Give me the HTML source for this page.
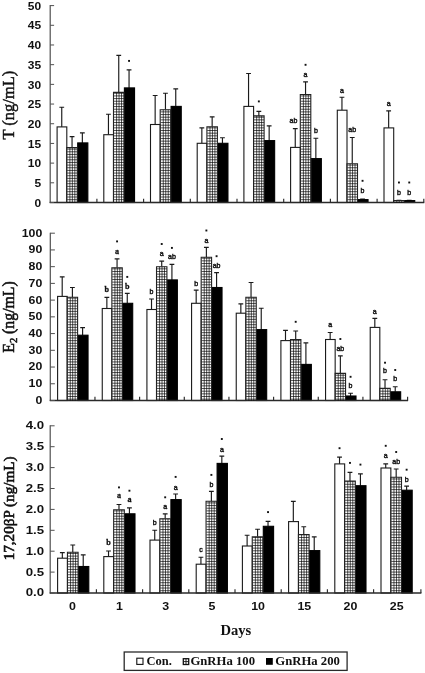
<!DOCTYPE html>
<html><head><meta charset="utf-8"><title>Figure</title>
<style>
html,body{margin:0;padding:0;background:#fff;}
body{width:425px;height:673px;overflow:hidden;}
svg{display:block;filter:blur(0.3px);}
text{font-family:"Liberation Sans",sans-serif;fill:#111;}
.yl{font-weight:bold;text-anchor:end;}
.xl{font-weight:bold;font-size:11.5px;text-anchor:middle;}
.ti{font-family:"Liberation Serif",serif;font-weight:bold;text-anchor:middle;}
.tr{font-family:"Liberation Serif",serif;text-anchor:middle;stroke:#111;stroke-width:0.35px;}
.as{font-size:7.5px;text-anchor:middle;stroke:#111;stroke-width:0.45px;}
.at{font-family:"Liberation Serif",serif;font-weight:bold;font-size:9px;text-anchor:middle;stroke:#111;stroke-width:0.3px;}
.lg{font-family:"Liberation Serif",serif;font-weight:bold;font-size:12px;}
</style></head><body>
<svg width="425" height="673" viewBox="0 0 425 673">
<rect width="425" height="673" fill="#fff"/>
<path d="M61.75 126.9V107.2M59.35 107.2H64.15" stroke="#1a1a1a" stroke-width="1.15" fill="none"/>
<rect x="57.1" y="126.9" width="9.7" height="75.6" fill="#fff" stroke="#1a1a1a" stroke-width="1.1"/>
<path d="M72.05 147.6V136.6M69.65 136.6H74.45" stroke="#1a1a1a" stroke-width="1.15" fill="none"/>
<rect x="67.4" y="147.6" width="9.7" height="54.9" fill="#fff" stroke="none" stroke-width="1.1"/>
<path d="M82.35 142.9V132.8M79.95 132.8H84.75" stroke="#1a1a1a" stroke-width="1.15" fill="none"/>
<rect x="77.7" y="142.9" width="10.15" height="59.6" fill="#000" stroke="#000" stroke-width="1.1"/>
<path d="M108.45 134.7V114.2M106.05 114.2H110.85" stroke="#1a1a1a" stroke-width="1.15" fill="none"/>
<rect x="103.8" y="134.7" width="9.7" height="67.8" fill="#fff" stroke="#1a1a1a" stroke-width="1.1"/>
<path d="M118.75 92.4V55.3M116.35 55.3H121.15" stroke="#1a1a1a" stroke-width="1.15" fill="none"/>
<rect x="114.1" y="92.4" width="9.7" height="110.1" fill="#fff" stroke="none" stroke-width="1.1"/>
<path d="M129.05 87.9V69.8M126.65 69.8H131.45" stroke="#1a1a1a" stroke-width="1.15" fill="none"/>
<rect x="124.4" y="87.9" width="10.15" height="114.6" fill="#000" stroke="#000" stroke-width="1.1"/>
<path d="M155.15 124.5V95.5M152.75 95.5H157.55" stroke="#1a1a1a" stroke-width="1.15" fill="none"/>
<rect x="150.5" y="124.5" width="9.7" height="78" fill="#fff" stroke="#1a1a1a" stroke-width="1.1"/>
<path d="M165.45 109.7V93.2M163.05 93.2H167.85" stroke="#1a1a1a" stroke-width="1.15" fill="none"/>
<rect x="160.8" y="109.7" width="9.7" height="92.8" fill="#fff" stroke="none" stroke-width="1.1"/>
<path d="M175.75 106.4V88.9M173.35 88.9H178.15" stroke="#1a1a1a" stroke-width="1.15" fill="none"/>
<rect x="171.1" y="106.4" width="10.15" height="96.1" fill="#000" stroke="#000" stroke-width="1.1"/>
<path d="M201.85 143.3V127.8M199.45 127.8H204.25" stroke="#1a1a1a" stroke-width="1.15" fill="none"/>
<rect x="197.2" y="143.3" width="9.7" height="59.2" fill="#fff" stroke="#1a1a1a" stroke-width="1.1"/>
<path d="M212.15 126.8V116.9M209.75 116.9H214.55" stroke="#1a1a1a" stroke-width="1.15" fill="none"/>
<rect x="207.5" y="126.8" width="9.7" height="75.7" fill="#fff" stroke="none" stroke-width="1.1"/>
<path d="M222.45 143.3V137.7M220.05 137.7H224.85" stroke="#1a1a1a" stroke-width="1.15" fill="none"/>
<rect x="217.8" y="143.3" width="10.15" height="59.2" fill="#000" stroke="#000" stroke-width="1.1"/>
<path d="M248.55 106.4V73.5M246.15 73.5H250.95" stroke="#1a1a1a" stroke-width="1.15" fill="none"/>
<rect x="243.9" y="106.4" width="9.7" height="96.1" fill="#fff" stroke="#1a1a1a" stroke-width="1.1"/>
<path d="M258.85 115.9V111.3M256.45 111.3H261.25" stroke="#1a1a1a" stroke-width="1.15" fill="none"/>
<rect x="254.2" y="115.9" width="9.7" height="86.6" fill="#fff" stroke="none" stroke-width="1.1"/>
<path d="M269.15 140.6V125.8M266.75 125.8H271.55" stroke="#1a1a1a" stroke-width="1.15" fill="none"/>
<rect x="264.5" y="140.6" width="10.15" height="61.9" fill="#000" stroke="#000" stroke-width="1.1"/>
<path d="M295.25 147.4V128.6M292.85 128.6H297.65" stroke="#1a1a1a" stroke-width="1.15" fill="none"/>
<rect x="290.6" y="147.4" width="9.7" height="55.1" fill="#fff" stroke="#1a1a1a" stroke-width="1.1"/>
<path d="M305.55 94.5V81.9M303.15 81.9H307.95" stroke="#1a1a1a" stroke-width="1.15" fill="none"/>
<rect x="300.9" y="94.5" width="9.7" height="108" fill="#fff" stroke="none" stroke-width="1.1"/>
<path d="M315.85 158.6V138.2M313.45 138.2H318.25" stroke="#1a1a1a" stroke-width="1.15" fill="none"/>
<rect x="311.2" y="158.6" width="10.15" height="43.9" fill="#000" stroke="#000" stroke-width="1.1"/>
<path d="M341.95 110.2V97.2M339.55 97.2H344.35" stroke="#1a1a1a" stroke-width="1.15" fill="none"/>
<rect x="337.3" y="110.2" width="9.7" height="92.3" fill="#fff" stroke="#1a1a1a" stroke-width="1.1"/>
<path d="M352.25 163.8V137.5M349.85 137.5H354.65" stroke="#1a1a1a" stroke-width="1.15" fill="none"/>
<rect x="347.6" y="163.8" width="9.7" height="38.7" fill="#fff" stroke="none" stroke-width="1.1"/>
<path d="M362.55 199.6V199M360.15 199H364.95" stroke="#1a1a1a" stroke-width="1.15" fill="none"/>
<rect x="357.9" y="199.6" width="10.15" height="2.9" fill="#000" stroke="#000" stroke-width="1.1"/>
<path d="M388.65 127.9V110.9M386.25 110.9H391.05" stroke="#1a1a1a" stroke-width="1.15" fill="none"/>
<rect x="384" y="127.9" width="9.7" height="74.6" fill="#fff" stroke="#1a1a1a" stroke-width="1.1"/>
<path d="M398.95 200.6V200.2M396.55 200.2H401.35" stroke="#1a1a1a" stroke-width="1.15" fill="none"/>
<rect x="394.3" y="200.6" width="9.7" height="1.9" fill="#fff" stroke="none" stroke-width="1.1"/>
<path d="M409.25 200.6V200.2M406.85 200.2H411.65" stroke="#1a1a1a" stroke-width="1.15" fill="none"/>
<rect x="404.6" y="200.6" width="10.15" height="1.9" fill="#000" stroke="#000" stroke-width="1.1"/>
<path d="M50.2 5.1V203" stroke="#505050" stroke-width="1.2" fill="none"/>
<path d="M49.7 202.5H424.3" stroke="#2a2a2a" stroke-width="1.35" fill="none"/>
<text class="yl" font-size="11.5" transform="translate(41.1 206.64) scale(1.04 1)">0</text>
<text class="yl" font-size="11.5" transform="translate(41.1 186.95) scale(1.04 1)">5</text>
<text class="yl" font-size="11.5" transform="translate(41.1 167.26) scale(1.04 1)">10</text>
<text class="yl" font-size="11.5" transform="translate(41.1 147.57) scale(1.04 1)">15</text>
<text class="yl" font-size="11.5" transform="translate(41.1 127.88) scale(1.04 1)">20</text>
<text class="yl" font-size="11.5" transform="translate(41.1 108.19) scale(1.04 1)">25</text>
<text class="yl" font-size="11.5" transform="translate(41.1 88.5) scale(1.04 1)">30</text>
<text class="yl" font-size="11.5" transform="translate(41.1 68.81) scale(1.04 1)">35</text>
<text class="yl" font-size="11.5" transform="translate(41.1 49.12) scale(1.04 1)">40</text>
<text class="yl" font-size="11.5" transform="translate(41.1 29.43) scale(1.04 1)">45</text>
<text class="yl" font-size="11.5" transform="translate(41.1 9.74) scale(1.04 1)">50</text>
<path d="M50.2 202.5H54.1M50.2 182.81H54.1M50.2 163.12H54.1M50.2 143.43H54.1M50.2 123.74H54.1M50.2 104.05H54.1M50.2 84.36H54.1M50.2 64.67H54.1M50.2 44.98H54.1M50.2 25.29H54.1M50.2 5.6H54.1" stroke="#505050" stroke-width="1" fill="none"/>
<path d="M96.9 202.5V198.7M143.6 202.5V198.7M190.3 202.5V198.7M237 202.5V198.7M283.7 202.5V198.7M330.4 202.5V198.7M377.1 202.5V198.7M423.8 202.5V198.7" stroke="#2a2a2a" stroke-width="1.15" fill="none"/>
<rect x="128.1" y="59.95" width="1.9" height="1.9" fill="#111"/>
<rect x="257.9" y="100.45" width="1.9" height="1.9" fill="#111"/>
<text class="as" transform="translate(293.45 123.2) scale(0.94 1)">ab</text>
<text class="as" transform="translate(305.55 77.2) scale(0.94 1)">a</text>
<rect x="304.6" y="63.85" width="1.9" height="1.9" fill="#111"/>
<text class="as" transform="translate(315.85 132.5) scale(0.94 1)">b</text>
<text class="as" transform="translate(341.95 92.6) scale(0.94 1)">a</text>
<text class="as" transform="translate(352.25 131.8) scale(0.94 1)">ab</text>
<text class="as" transform="translate(362.55 193.2) scale(0.94 1)">b</text>
<rect x="361.6" y="179.85" width="1.9" height="1.9" fill="#111"/>
<text class="as" transform="translate(388.65 106.2) scale(0.94 1)">a</text>
<text class="as" transform="translate(398.95 195) scale(0.94 1)">b</text>
<rect x="398" y="181.55" width="1.9" height="1.9" fill="#111"/>
<text class="as" transform="translate(409.25 195) scale(0.94 1)">b</text>
<rect x="408.3" y="181.55" width="1.9" height="1.9" fill="#111"/>
<path d="M62.2 296.4V276.9M59.8 276.9H64.6" stroke="#1a1a1a" stroke-width="1.15" fill="none"/>
<rect x="57.6" y="296.4" width="9.6" height="104.1" fill="#fff" stroke="#1a1a1a" stroke-width="1.1"/>
<path d="M72.4 297.3V287.5M70 287.5H74.8" stroke="#1a1a1a" stroke-width="1.15" fill="none"/>
<rect x="67.8" y="297.3" width="9.6" height="103.2" fill="#fff" stroke="none" stroke-width="1.1"/>
<path d="M82.6 335.2V327.6M80.2 327.6H85" stroke="#1a1a1a" stroke-width="1.15" fill="none"/>
<rect x="78" y="335.2" width="10.05" height="65.3" fill="#000" stroke="#000" stroke-width="1.1"/>
<path d="M106.86 308.5V297.3M104.46 297.3H109.26" stroke="#1a1a1a" stroke-width="1.15" fill="none"/>
<rect x="102.26" y="308.5" width="9.6" height="92" fill="#fff" stroke="#1a1a1a" stroke-width="1.1"/>
<path d="M117.06 267.7V258.8M114.66 258.8H119.46" stroke="#1a1a1a" stroke-width="1.15" fill="none"/>
<rect x="112.46" y="267.7" width="9.6" height="132.8" fill="#fff" stroke="none" stroke-width="1.1"/>
<path d="M127.26 303.3V293.4M124.86 293.4H129.66" stroke="#1a1a1a" stroke-width="1.15" fill="none"/>
<rect x="122.66" y="303.3" width="10.05" height="97.2" fill="#000" stroke="#000" stroke-width="1.1"/>
<path d="M151.52 309.5V299M149.12 299H153.92" stroke="#1a1a1a" stroke-width="1.15" fill="none"/>
<rect x="146.92" y="309.5" width="9.6" height="91" fill="#fff" stroke="#1a1a1a" stroke-width="1.1"/>
<path d="M161.72 266.7V261.1M159.32 261.1H164.12" stroke="#1a1a1a" stroke-width="1.15" fill="none"/>
<rect x="157.12" y="266.7" width="9.6" height="133.8" fill="#fff" stroke="none" stroke-width="1.1"/>
<path d="M171.92 279.9V264.4M169.52 264.4H174.32" stroke="#1a1a1a" stroke-width="1.15" fill="none"/>
<rect x="167.32" y="279.9" width="10.05" height="120.6" fill="#000" stroke="#000" stroke-width="1.1"/>
<path d="M196.18 303.3V290.1M193.78 290.1H198.58" stroke="#1a1a1a" stroke-width="1.15" fill="none"/>
<rect x="191.58" y="303.3" width="9.6" height="97.2" fill="#fff" stroke="#1a1a1a" stroke-width="1.1"/>
<path d="M206.38 257.2V247.3M203.98 247.3H208.78" stroke="#1a1a1a" stroke-width="1.15" fill="none"/>
<rect x="201.78" y="257.2" width="9.6" height="143.3" fill="#fff" stroke="none" stroke-width="1.1"/>
<path d="M216.58 287.5V272.6M214.18 272.6H218.98" stroke="#1a1a1a" stroke-width="1.15" fill="none"/>
<rect x="211.98" y="287.5" width="10.05" height="113" fill="#000" stroke="#000" stroke-width="1.1"/>
<path d="M240.84 313.2V303.9M238.44 303.9H243.24" stroke="#1a1a1a" stroke-width="1.15" fill="none"/>
<rect x="236.24" y="313.2" width="9.6" height="87.3" fill="#fff" stroke="#1a1a1a" stroke-width="1.1"/>
<path d="M251.04 297.3V282.5M248.64 282.5H253.44" stroke="#1a1a1a" stroke-width="1.15" fill="none"/>
<rect x="246.44" y="297.3" width="9.6" height="103.2" fill="#fff" stroke="none" stroke-width="1.1"/>
<path d="M261.24 329.6V308.2M258.84 308.2H263.64" stroke="#1a1a1a" stroke-width="1.15" fill="none"/>
<rect x="256.64" y="329.6" width="10.05" height="70.9" fill="#000" stroke="#000" stroke-width="1.1"/>
<path d="M285.5 340.6V330.3M283.1 330.3H287.9" stroke="#1a1a1a" stroke-width="1.15" fill="none"/>
<rect x="280.9" y="340.6" width="9.6" height="59.9" fill="#fff" stroke="#1a1a1a" stroke-width="1.1"/>
<path d="M295.7 339.5V331M293.3 331H298.1" stroke="#1a1a1a" stroke-width="1.15" fill="none"/>
<rect x="291.1" y="339.5" width="9.6" height="61" fill="#fff" stroke="none" stroke-width="1.1"/>
<path d="M305.9 364.4V342.9M303.5 342.9H308.3" stroke="#1a1a1a" stroke-width="1.15" fill="none"/>
<rect x="301.3" y="364.4" width="10.05" height="36.1" fill="#000" stroke="#000" stroke-width="1.1"/>
<path d="M330.16 339.5V332.5M327.76 332.5H332.56" stroke="#1a1a1a" stroke-width="1.15" fill="none"/>
<rect x="325.56" y="339.5" width="9.6" height="61" fill="#fff" stroke="#1a1a1a" stroke-width="1.1"/>
<path d="M340.36 373.4V355.9M337.96 355.9H342.76" stroke="#1a1a1a" stroke-width="1.15" fill="none"/>
<rect x="335.76" y="373.4" width="9.6" height="27.1" fill="#fff" stroke="none" stroke-width="1.1"/>
<path d="M350.56 396V393.2M348.16 393.2H352.96" stroke="#1a1a1a" stroke-width="1.15" fill="none"/>
<rect x="345.96" y="396" width="10.05" height="4.5" fill="#000" stroke="#000" stroke-width="1.1"/>
<path d="M374.82 327.4V318.4M372.42 318.4H377.22" stroke="#1a1a1a" stroke-width="1.15" fill="none"/>
<rect x="370.22" y="327.4" width="9.6" height="73.1" fill="#fff" stroke="#1a1a1a" stroke-width="1.1"/>
<path d="M385.02 388.4V379.7M382.62 379.7H387.42" stroke="#1a1a1a" stroke-width="1.15" fill="none"/>
<rect x="380.42" y="388.4" width="9.6" height="12.1" fill="#fff" stroke="none" stroke-width="1.1"/>
<path d="M395.22 391.8V386.7M392.82 386.7H397.62" stroke="#1a1a1a" stroke-width="1.15" fill="none"/>
<rect x="390.62" y="391.8" width="10.05" height="8.7" fill="#000" stroke="#000" stroke-width="1.1"/>
<path d="M50.3 232.7V401" stroke="#505050" stroke-width="1.2" fill="none"/>
<path d="M49.8 400.5H408.1" stroke="#2a2a2a" stroke-width="1.35" fill="none"/>
<text class="yl" font-size="11.4" transform="translate(42.3 403.9) scale(1.08 1)">0</text>
<text class="yl" font-size="11.4" transform="translate(42.3 387.17) scale(1.08 1)">10</text>
<text class="yl" font-size="11.4" transform="translate(42.3 370.44) scale(1.08 1)">20</text>
<text class="yl" font-size="11.4" transform="translate(42.3 353.71) scale(1.08 1)">30</text>
<text class="yl" font-size="11.4" transform="translate(42.3 336.98) scale(1.08 1)">40</text>
<text class="yl" font-size="11.4" transform="translate(42.3 320.25) scale(1.08 1)">50</text>
<text class="yl" font-size="11.4" transform="translate(42.3 303.52) scale(1.08 1)">60</text>
<text class="yl" font-size="11.4" transform="translate(42.3 286.79) scale(1.08 1)">70</text>
<text class="yl" font-size="11.4" transform="translate(42.3 270.06) scale(1.08 1)">80</text>
<text class="yl" font-size="11.4" transform="translate(42.3 253.33) scale(1.08 1)">90</text>
<text class="yl" font-size="11.4" transform="translate(42.3 236.6) scale(1.08 1)">100</text>
<path d="M50.3 400.5H54.9M50.3 383.77H54.9M50.3 367.04H54.9M50.3 350.31H54.9M50.3 333.58H54.9M50.3 316.85H54.9M50.3 300.12H54.9M50.3 283.39H54.9M50.3 266.66H54.9M50.3 249.93H54.9M50.3 233.2H54.9" stroke="#505050" stroke-width="1" fill="none"/>
<path d="M94.96 400.5V396.7M139.62 400.5V396.7M184.28 400.5V396.7M228.94 400.5V396.7M273.6 400.5V396.7M318.26 400.5V396.7M362.92 400.5V396.7M407.6 400.5V396.7" stroke="#2a2a2a" stroke-width="1.15" fill="none"/>
<text class="at" transform="translate(106.86 292.4) scale(0.9 1)">b</text>
<text class="at" transform="translate(117.06 253.5) scale(0.9 1)">a</text>
<rect x="116.11" y="240.45" width="1.9" height="1.9" fill="#111"/>
<text class="at" transform="translate(127.26 289.1) scale(0.9 1)">b</text>
<rect x="126.31" y="275.95" width="1.9" height="1.9" fill="#111"/>
<text class="as" transform="translate(151.52 293.6) scale(0.94 1)">b</text>
<text class="as" transform="translate(161.72 256.1) scale(0.94 1)">a</text>
<rect x="160.77" y="243.05" width="1.9" height="1.9" fill="#111"/>
<text class="as" transform="translate(171.92 259.4) scale(0.94 1)">ab</text>
<rect x="170.97" y="246.95" width="1.9" height="1.9" fill="#111"/>
<text class="as" transform="translate(196.18 285.7) scale(0.94 1)">b</text>
<text class="as" transform="translate(206.38 242.6) scale(0.94 1)">a</text>
<rect x="205.43" y="229.55" width="1.9" height="1.9" fill="#111"/>
<text class="as" transform="translate(216.58 267.6) scale(0.94 1)">ab</text>
<rect x="215.63" y="255.25" width="1.9" height="1.9" fill="#111"/>
<rect x="294.75" y="320.85" width="1.9" height="1.9" fill="#111"/>
<text class="as" transform="translate(330.16 327.1) scale(0.94 1)">a</text>
<text class="as" transform="translate(340.36 350.8) scale(0.94 1)">ab</text>
<rect x="339.41" y="338.05" width="1.9" height="1.9" fill="#111"/>
<text class="as" transform="translate(350.56 388.4) scale(0.94 1)">b</text>
<rect x="349.61" y="375.85" width="1.9" height="1.9" fill="#111"/>
<text class="as" transform="translate(374.82 314.1) scale(0.94 1)">a</text>
<text class="as" transform="translate(385.02 372.8) scale(0.94 1)">b</text>
<rect x="384.07" y="361.75" width="1.9" height="1.9" fill="#111"/>
<text class="as" transform="translate(395.22 381.3) scale(0.94 1)">b</text>
<rect x="394.27" y="369.05" width="1.9" height="1.9" fill="#111"/>
<path d="M62.33 558.2V552.6M59.93 552.6H64.73" stroke="#1a1a1a" stroke-width="1.15" fill="none"/>
<rect x="57.6" y="558.2" width="9.85" height="34.8" fill="#fff" stroke="#1a1a1a" stroke-width="1.1"/>
<path d="M72.77 552.3V545M70.37 545H75.17" stroke="#1a1a1a" stroke-width="1.15" fill="none"/>
<rect x="68.05" y="552.3" width="9.85" height="40.7" fill="#fff" stroke="none" stroke-width="1.1"/>
<path d="M83.22 566.5V554.9M80.82 554.9H85.62" stroke="#1a1a1a" stroke-width="1.15" fill="none"/>
<rect x="78.5" y="566.5" width="10.3" height="26.5" fill="#000" stroke="#000" stroke-width="1.1"/>
<path d="M108.53 556.6V551M106.12 551H110.93" stroke="#1a1a1a" stroke-width="1.15" fill="none"/>
<rect x="103.8" y="556.6" width="9.85" height="36.4" fill="#fff" stroke="#1a1a1a" stroke-width="1.1"/>
<path d="M118.98 509.8V504.5M116.58 504.5H121.38" stroke="#1a1a1a" stroke-width="1.15" fill="none"/>
<rect x="114.25" y="509.8" width="9.85" height="83.2" fill="#fff" stroke="none" stroke-width="1.1"/>
<path d="M129.43 513.8V507.8M127.03 507.8H131.83" stroke="#1a1a1a" stroke-width="1.15" fill="none"/>
<rect x="124.7" y="513.8" width="10.3" height="79.2" fill="#000" stroke="#000" stroke-width="1.1"/>
<path d="M154.73 540.1V530.2M152.33 530.2H157.13" stroke="#1a1a1a" stroke-width="1.15" fill="none"/>
<rect x="150" y="540.1" width="9.85" height="52.9" fill="#fff" stroke="#1a1a1a" stroke-width="1.1"/>
<path d="M165.18 518.7V513.8M162.78 513.8H167.58" stroke="#1a1a1a" stroke-width="1.15" fill="none"/>
<rect x="160.45" y="518.7" width="9.85" height="74.3" fill="#fff" stroke="none" stroke-width="1.1"/>
<path d="M175.63 499.6V494M173.23 494H178.03" stroke="#1a1a1a" stroke-width="1.15" fill="none"/>
<rect x="170.9" y="499.6" width="10.3" height="93.4" fill="#000" stroke="#000" stroke-width="1.1"/>
<path d="M200.93 564.2V557.2M198.53 557.2H203.33" stroke="#1a1a1a" stroke-width="1.15" fill="none"/>
<rect x="196.2" y="564.2" width="9.85" height="28.8" fill="#fff" stroke="#1a1a1a" stroke-width="1.1"/>
<path d="M211.38 501.2V491.4M208.97 491.4H213.78" stroke="#1a1a1a" stroke-width="1.15" fill="none"/>
<rect x="206.65" y="501.2" width="9.85" height="91.8" fill="#fff" stroke="none" stroke-width="1.1"/>
<path d="M221.83 463.4V456.1M219.43 456.1H224.23" stroke="#1a1a1a" stroke-width="1.15" fill="none"/>
<rect x="217.1" y="463.4" width="10.3" height="129.6" fill="#000" stroke="#000" stroke-width="1.1"/>
<path d="M247.12 546V535.2M244.72 535.2H249.53" stroke="#1a1a1a" stroke-width="1.15" fill="none"/>
<rect x="242.4" y="546" width="9.85" height="47" fill="#fff" stroke="#1a1a1a" stroke-width="1.1"/>
<path d="M257.57 536.8V529.2M255.17 529.2H259.97" stroke="#1a1a1a" stroke-width="1.15" fill="none"/>
<rect x="252.85" y="536.8" width="9.85" height="56.2" fill="#fff" stroke="none" stroke-width="1.1"/>
<path d="M268.03 526.3V521.3M265.63 521.3H270.43" stroke="#1a1a1a" stroke-width="1.15" fill="none"/>
<rect x="263.3" y="526.3" width="10.3" height="66.7" fill="#000" stroke="#000" stroke-width="1.1"/>
<path d="M293.32 521.6V501.4M290.93 501.4H295.72" stroke="#1a1a1a" stroke-width="1.15" fill="none"/>
<rect x="288.6" y="521.6" width="9.85" height="71.4" fill="#fff" stroke="#1a1a1a" stroke-width="1.1"/>
<path d="M303.77 534.5V526.7M301.38 526.7H306.17" stroke="#1a1a1a" stroke-width="1.15" fill="none"/>
<rect x="299.05" y="534.5" width="9.85" height="58.5" fill="#fff" stroke="none" stroke-width="1.1"/>
<path d="M314.22 550.6V536.9M311.82 536.9H316.62" stroke="#1a1a1a" stroke-width="1.15" fill="none"/>
<rect x="309.5" y="550.6" width="10.3" height="42.4" fill="#000" stroke="#000" stroke-width="1.1"/>
<path d="M339.53 463.9V457.1M337.13 457.1H341.93" stroke="#1a1a1a" stroke-width="1.15" fill="none"/>
<rect x="334.8" y="463.9" width="9.85" height="129.1" fill="#fff" stroke="#1a1a1a" stroke-width="1.1"/>
<path d="M349.98 481V472.4M347.58 472.4H352.38" stroke="#1a1a1a" stroke-width="1.15" fill="none"/>
<rect x="345.25" y="481" width="9.85" height="112" fill="#fff" stroke="none" stroke-width="1.1"/>
<path d="M360.43 485.7V473.8M358.03 473.8H362.82" stroke="#1a1a1a" stroke-width="1.15" fill="none"/>
<rect x="355.7" y="485.7" width="10.3" height="107.3" fill="#000" stroke="#000" stroke-width="1.1"/>
<path d="M385.73 468V463.9M383.33 463.9H388.12" stroke="#1a1a1a" stroke-width="1.15" fill="none"/>
<rect x="381" y="468" width="9.85" height="125" fill="#fff" stroke="#1a1a1a" stroke-width="1.1"/>
<path d="M396.18 477.2V469M393.78 469H398.57" stroke="#1a1a1a" stroke-width="1.15" fill="none"/>
<rect x="391.45" y="477.2" width="9.85" height="115.8" fill="#fff" stroke="none" stroke-width="1.1"/>
<path d="M406.62 490.2V486.1M404.23 486.1H409.02" stroke="#1a1a1a" stroke-width="1.15" fill="none"/>
<rect x="401.9" y="490.2" width="10.3" height="102.8" fill="#000" stroke="#000" stroke-width="1.1"/>
<path d="M50.2 425.3V593.5" stroke="#505050" stroke-width="1.2" fill="none"/>
<path d="M49.7 593H421.4" stroke="#2a2a2a" stroke-width="1.35" fill="none"/>
<text class="yl" font-size="11.5" transform="translate(44 596.44) scale(1.15 1)">0.0</text>
<text class="yl" font-size="11.5" transform="translate(44 575.54) scale(1.15 1)">0.5</text>
<text class="yl" font-size="11.5" transform="translate(44 554.64) scale(1.15 1)">1.0</text>
<text class="yl" font-size="11.5" transform="translate(44 533.74) scale(1.15 1)">1.5</text>
<text class="yl" font-size="11.5" transform="translate(44 512.84) scale(1.15 1)">2.0</text>
<text class="yl" font-size="11.5" transform="translate(44 491.94) scale(1.15 1)">2.5</text>
<text class="yl" font-size="11.5" transform="translate(44 471.04) scale(1.15 1)">3.0</text>
<text class="yl" font-size="11.5" transform="translate(44 450.14) scale(1.15 1)">3.5</text>
<text class="yl" font-size="11.5" transform="translate(44 429.24) scale(1.15 1)">4.0</text>
<path d="M50.2 593H54.6M50.2 572.1H54.6M50.2 551.2H54.6M50.2 530.3H54.6M50.2 509.4H54.6M50.2 488.5H54.6M50.2 467.6H54.6M50.2 446.7H54.6M50.2 425.8H54.6" stroke="#505050" stroke-width="1" fill="none"/>
<path d="M96.4 593V589.2M142.6 593V589.2M188.8 593V589.2M235 593V589.2M281.2 593V589.2M327.4 593V589.2M373.6 593V589.2M420.9 593V589.2" stroke="#2a2a2a" stroke-width="1.15" fill="none"/>
<text class="at" transform="translate(108.53 545.1) scale(0.9 1)">b</text>
<text class="at" transform="translate(118.98 498.3) scale(0.9 1)">a</text>
<rect x="118.03" y="486.45" width="1.9" height="1.9" fill="#111"/>
<text class="at" transform="translate(129.43 501.6) scale(0.9 1)">a</text>
<rect x="128.48" y="489.75" width="1.9" height="1.9" fill="#111"/>
<text class="as" transform="translate(154.73 525.2) scale(0.94 1)">b</text>
<text class="as" transform="translate(165.18 509.4) scale(0.94 1)">a</text>
<rect x="164.23" y="496.35" width="1.9" height="1.9" fill="#111"/>
<text class="as" transform="translate(175.63 489.6) scale(0.94 1)">a</text>
<rect x="174.68" y="475.95" width="1.9" height="1.9" fill="#111"/>
<text class="as" transform="translate(200.93 552.2) scale(0.94 1)">c</text>
<text class="as" transform="translate(211.38 487) scale(0.94 1)">b</text>
<rect x="210.43" y="473.95" width="1.9" height="1.9" fill="#111"/>
<text class="as" transform="translate(221.83 451.7) scale(0.94 1)">a</text>
<rect x="220.88" y="438.05" width="1.9" height="1.9" fill="#111"/>
<rect x="267.08" y="511.15" width="1.9" height="1.9" fill="#111"/>
<rect x="338.58" y="447.25" width="1.9" height="1.9" fill="#111"/>
<rect x="349.03" y="461.95" width="1.9" height="1.9" fill="#111"/>
<rect x="359.48" y="463.65" width="1.9" height="1.9" fill="#111"/>
<text class="as" transform="translate(385.73 458.2) scale(0.94 1)">a</text>
<rect x="384.78" y="444.85" width="1.9" height="1.9" fill="#111"/>
<text class="as" transform="translate(396.18 464.1) scale(0.94 1)">ab</text>
<rect x="395.23" y="451.05" width="1.9" height="1.9" fill="#111"/>
<text class="as" transform="translate(406.62 482.2) scale(0.94 1)">b</text>
<rect x="405.68" y="468.75" width="1.9" height="1.9" fill="#111"/>
<clipPath id="hc"><rect x="67.1" y="147.6" width="10.2" height="54.9"/><rect x="113.8" y="92.4" width="10.2" height="110.1"/><rect x="160.5" y="109.7" width="10.2" height="92.8"/><rect x="207.2" y="126.8" width="10.2" height="75.7"/><rect x="253.9" y="115.9" width="10.2" height="86.6"/><rect x="300.6" y="94.5" width="10.2" height="108"/><rect x="347.3" y="163.8" width="10.2" height="38.7"/><rect x="394" y="200.6" width="10.2" height="1.9"/><rect x="67.5" y="297.3" width="10.1" height="103.2"/><rect x="112.16" y="267.7" width="10.1" height="132.8"/><rect x="156.82" y="266.7" width="10.1" height="133.8"/><rect x="201.48" y="257.2" width="10.1" height="143.3"/><rect x="246.14" y="297.3" width="10.1" height="103.2"/><rect x="290.8" y="339.5" width="10.1" height="61"/><rect x="335.46" y="373.4" width="10.1" height="27.1"/><rect x="380.12" y="388.4" width="10.1" height="12.1"/><rect x="67.75" y="552.3" width="10.35" height="40.7"/><rect x="113.95" y="509.8" width="10.35" height="83.2"/><rect x="160.15" y="518.7" width="10.35" height="74.3"/><rect x="206.35" y="501.2" width="10.35" height="91.8"/><rect x="252.55" y="536.8" width="10.35" height="56.2"/><rect x="298.75" y="534.5" width="10.35" height="58.5"/><rect x="344.95" y="481" width="10.35" height="112"/><rect x="391.15" y="477.2" width="10.35" height="115.8"/></clipPath>
<path clip-path="url(#hc)" d="M0 0.17H425M0 2.83H425M0 5.49H425M0 8.15H425M0 10.81H425M0 13.47H425M0 16.13H425M0 18.79H425M0 21.45H425M0 24.11H425M0 26.77H425M0 29.43H425M0 32.09H425M0 34.75H425M0 37.41H425M0 40.07H425M0 42.73H425M0 45.39H425M0 48.05H425M0 50.71H425M0 53.37H425M0 56.03H425M0 58.69H425M0 61.35H425M0 64.01H425M0 66.67H425M0 69.33H425M0 71.99H425M0 74.65H425M0 77.31H425M0 79.97H425M0 82.63H425M0 85.29H425M0 87.95H425M0 90.61H425M0 93.27H425M0 95.93H425M0 98.59H425M0 101.25H425M0 103.91H425M0 106.57H425M0 109.23H425M0 111.89H425M0 114.55H425M0 117.21H425M0 119.87H425M0 122.53H425M0 125.19H425M0 127.85H425M0 130.51H425M0 133.17H425M0 135.83H425M0 138.49H425M0 141.15H425M0 143.81H425M0 146.47H425M0 149.13H425M0 151.79H425M0 154.45H425M0 157.11H425M0 159.77H425M0 162.43H425M0 165.09H425M0 167.75H425M0 170.41H425M0 173.07H425M0 175.73H425M0 178.39H425M0 181.05H425M0 183.71H425M0 186.37H425M0 189.03H425M0 191.69H425M0 194.35H425M0 197.01H425M0 199.67H425M0 202.33H425M0 204.99H425M0 207.65H425M0 210.31H425M0 212.97H425M0 215.63H425M0 218.29H425M0 220.95H425M0 223.61H425M0 226.27H425M0 228.93H425M0 231.59H425M0 234.25H425M0 236.91H425M0 239.57H425M0 242.23H425M0 244.89H425M0 247.55H425M0 250.21H425M0 252.87H425M0 255.53H425M0 258.19H425M0 260.85H425M0 263.51H425M0 266.17H425M0 268.83H425M0 271.49H425M0 274.15H425M0 276.81H425M0 279.47H425M0 282.13H425M0 284.79H425M0 287.45H425M0 290.11H425M0 292.77H425M0 295.43H425M0 298.09H425M0 300.75H425M0 303.41H425M0 306.07H425M0 308.73H425M0 311.39H425M0 314.05H425M0 316.71H425M0 319.37H425M0 322.03H425M0 324.69H425M0 327.35H425M0 330.01H425M0 332.67H425M0 335.33H425M0 337.99H425M0 340.65H425M0 343.31H425M0 345.97H425M0 348.63H425M0 351.29H425M0 353.95H425M0 356.61H425M0 359.27H425M0 361.93H425M0 364.59H425M0 367.25H425M0 369.91H425M0 372.57H425M0 375.23H425M0 377.89H425M0 380.55H425M0 383.21H425M0 385.87H425M0 388.53H425M0 391.19H425M0 393.85H425M0 396.51H425M0 399.17H425M0 401.83H425M0 404.49H425M0 407.15H425M0 409.81H425M0 412.47H425M0 415.13H425M0 417.79H425M0 420.45H425M0 423.11H425M0 425.77H425M0 428.43H425M0 431.09H425M0 433.75H425M0 436.41H425M0 439.07H425M0 441.73H425M0 444.39H425M0 447.05H425M0 449.71H425M0 452.37H425M0 455.03H425M0 457.69H425M0 460.35H425M0 463.01H425M0 465.67H425M0 468.33H425M0 470.99H425M0 473.65H425M0 476.31H425M0 478.97H425M0 481.63H425M0 484.29H425M0 486.95H425M0 489.61H425M0 492.27H425M0 494.93H425M0 497.59H425M0 500.25H425M0 502.91H425M0 505.57H425M0 508.23H425M0 510.89H425M0 513.55H425M0 516.21H425M0 518.87H425M0 521.53H425M0 524.19H425M0 526.85H425M0 529.51H425M0 532.17H425M0 534.83H425M0 537.49H425M0 540.15H425M0 542.81H425M0 545.47H425M0 548.13H425M0 550.79H425M0 553.45H425M0 556.11H425M0 558.77H425M0 561.43H425M0 564.09H425M0 566.75H425M0 569.41H425M0 572.07H425M0 574.73H425M0 577.39H425M0 580.05H425M0 582.71H425M0 585.37H425M0 588.03H425M0 590.69H425M0 593.35H425M0 596.01H425M0 598.67H425M0 601.33H425M0 603.99H425M0 606.65H425M0 609.31H425M0 611.97H425M0 614.63H425M0 617.29H425M0 619.95H425M0 622.61H425M0 625.27H425M0 627.93H425M0 630.59H425M0 633.25H425M0 635.91H425M0 638.57H425M0 641.23H425M0 643.89H425M0 646.55H425M0 649.21H425M0 651.87H425M0 654.53H425M0 657.19H425M0 659.85H425M0 662.51H425M0 665.17H425M0 667.83H425M0 670.49H425" stroke="#000" stroke-opacity="0.85" stroke-width="0.8" fill="none"/>
<path d="M69.88 147.6V202.5M72.35 147.6V202.5M74.83 147.6V202.5M116.58 92.4V202.5M119.05 92.4V202.5M121.53 92.4V202.5M163.28 109.7V202.5M165.75 109.7V202.5M168.23 109.7V202.5M209.98 126.8V202.5M212.45 126.8V202.5M214.93 126.8V202.5M256.68 115.9V202.5M259.15 115.9V202.5M261.62 115.9V202.5M303.38 94.5V202.5M305.85 94.5V202.5M308.32 94.5V202.5M350.08 163.8V202.5M352.55 163.8V202.5M355.03 163.8V202.5M396.78 200.6V202.5M399.25 200.6V202.5M401.73 200.6V202.5M70.25 297.3V400.5M72.7 297.3V400.5M75.15 297.3V400.5M114.91 267.7V400.5M117.36 267.7V400.5M119.81 267.7V400.5M159.57 266.7V400.5M162.02 266.7V400.5M164.47 266.7V400.5M204.23 257.2V400.5M206.68 257.2V400.5M209.13 257.2V400.5M248.89 297.3V400.5M251.34 297.3V400.5M253.79 297.3V400.5M293.55 339.5V400.5M296 339.5V400.5M298.45 339.5V400.5M338.21 373.4V400.5M340.66 373.4V400.5M343.11 373.4V400.5M382.87 388.4V400.5M385.32 388.4V400.5M387.77 388.4V400.5M70.56 552.3V593M73.08 552.3V593M75.59 552.3V593M116.76 509.8V593M119.28 509.8V593M121.79 509.8V593M162.96 518.7V593M165.48 518.7V593M167.99 518.7V593M209.16 501.2V593M211.68 501.2V593M214.19 501.2V593M255.36 536.8V593M257.88 536.8V593M260.39 536.8V593M301.56 534.5V593M304.07 534.5V593M306.59 534.5V593M347.76 481V593M350.27 481V593M352.79 481V593M393.96 477.2V593M396.47 477.2V593M398.99 477.2V593" stroke="#000" stroke-opacity="0.85" stroke-width="0.8" fill="none"/>
<path d="M66.8 202.5V147.6H77.3V202.5" fill="none" stroke="#222" stroke-width="1.1"/>
<path d="M113.5 202.5V92.4H124V202.5" fill="none" stroke="#222" stroke-width="1.1"/>
<path d="M160.2 202.5V109.7H170.7V202.5" fill="none" stroke="#222" stroke-width="1.1"/>
<path d="M206.9 202.5V126.8H217.4V202.5" fill="none" stroke="#222" stroke-width="1.1"/>
<path d="M253.6 202.5V115.9H264.1V202.5" fill="none" stroke="#222" stroke-width="1.1"/>
<path d="M300.3 202.5V94.5H310.8V202.5" fill="none" stroke="#222" stroke-width="1.1"/>
<path d="M347 202.5V163.8H357.5V202.5" fill="none" stroke="#222" stroke-width="1.1"/>
<path d="M393.7 202.5V200.6H404.2V202.5" fill="none" stroke="#222" stroke-width="1.1"/>
<path d="M67.2 400.5V297.3H77.6V400.5" fill="none" stroke="#222" stroke-width="1.1"/>
<path d="M111.86 400.5V267.7H122.26V400.5" fill="none" stroke="#222" stroke-width="1.1"/>
<path d="M156.52 400.5V266.7H166.92V400.5" fill="none" stroke="#222" stroke-width="1.1"/>
<path d="M201.18 400.5V257.2H211.58V400.5" fill="none" stroke="#222" stroke-width="1.1"/>
<path d="M245.84 400.5V297.3H256.24V400.5" fill="none" stroke="#222" stroke-width="1.1"/>
<path d="M290.5 400.5V339.5H300.9V400.5" fill="none" stroke="#222" stroke-width="1.1"/>
<path d="M335.16 400.5V373.4H345.56V400.5" fill="none" stroke="#222" stroke-width="1.1"/>
<path d="M379.82 400.5V388.4H390.22V400.5" fill="none" stroke="#222" stroke-width="1.1"/>
<path d="M67.45 593V552.3H78.1V593" fill="none" stroke="#222" stroke-width="1.1"/>
<path d="M113.65 593V509.8H124.3V593" fill="none" stroke="#222" stroke-width="1.1"/>
<path d="M159.85 593V518.7H170.5V593" fill="none" stroke="#222" stroke-width="1.1"/>
<path d="M206.05 593V501.2H216.7V593" fill="none" stroke="#222" stroke-width="1.1"/>
<path d="M252.25 593V536.8H262.9V593" fill="none" stroke="#222" stroke-width="1.1"/>
<path d="M298.45 593V534.5H309.1V593" fill="none" stroke="#222" stroke-width="1.1"/>
<path d="M344.65 593V481H355.3V593" fill="none" stroke="#222" stroke-width="1.1"/>
<path d="M390.85 593V477.2H401.5V593" fill="none" stroke="#222" stroke-width="1.1"/>
<text class="tr" style="stroke-width:0.45px" font-size="16.5" transform="translate(13.8 105.1) rotate(-90)">T (ng/mL)</text>
<text class="tr" style="stroke-width:0.55px" font-size="15.8" transform="translate(13.8 317) rotate(-90)">E<tspan font-size="10.5" dy="3.5">2</tspan><tspan dy="-3.5"> (ng/mL)</tspan></text>
<text class="tr" style="stroke-width:0.6px" font-size="15.15" transform="translate(13.5 508.4) rotate(-90)">17,20βP (ng/mL)</text>
<text class="xl" transform="translate(72.5 610.4) scale(1.08 1)">0</text>
<text class="xl" transform="translate(119.5 610.4) scale(1.08 1)">1</text>
<text class="xl" transform="translate(165.7 610.4) scale(1.08 1)">3</text>
<text class="xl" transform="translate(211.9 610.4) scale(1.08 1)">5</text>
<text class="xl" transform="translate(258.1 610.4) scale(1.08 1)">10</text>
<text class="xl" transform="translate(304.3 610.4) scale(1.08 1)">15</text>
<text class="xl" transform="translate(350.5 610.4) scale(1.08 1)">20</text>
<text class="xl" transform="translate(396.7 610.4) scale(1.08 1)">25</text>
<text class="ti" font-size="14.6" x="235.8" y="635.2">Days</text>
<rect x="124.2" y="652.0" width="222.9" height="18.4" fill="none" stroke="#2a2a2a" stroke-width="1.3"/>
<rect x="136.8" y="658.2" width="6.2" height="6.2" fill="#fff" stroke="#111" stroke-width="1.1"/>
<text class="lg" transform="translate(146.6 665.2) scale(1.04 1)">Con.</text>
<rect x="183.3" y="658.7" width="5.4" height="5.8" fill="#fff" stroke="#111" stroke-width="1.3"/><path d="M186 658.7V664.5M183.3 661.6H188.7" stroke="#111" stroke-width="0.9" fill="none"/>
<text class="lg" transform="translate(190.4 665.2) scale(1.06 1)">GnRHa 100</text>
<rect x="266.0" y="658.0" width="6.8" height="6.8" fill="#000"/>
<text class="lg" transform="translate(275.3 665.2) scale(1.06 1)">GnRHa 200</text>
</svg>
</body></html>
